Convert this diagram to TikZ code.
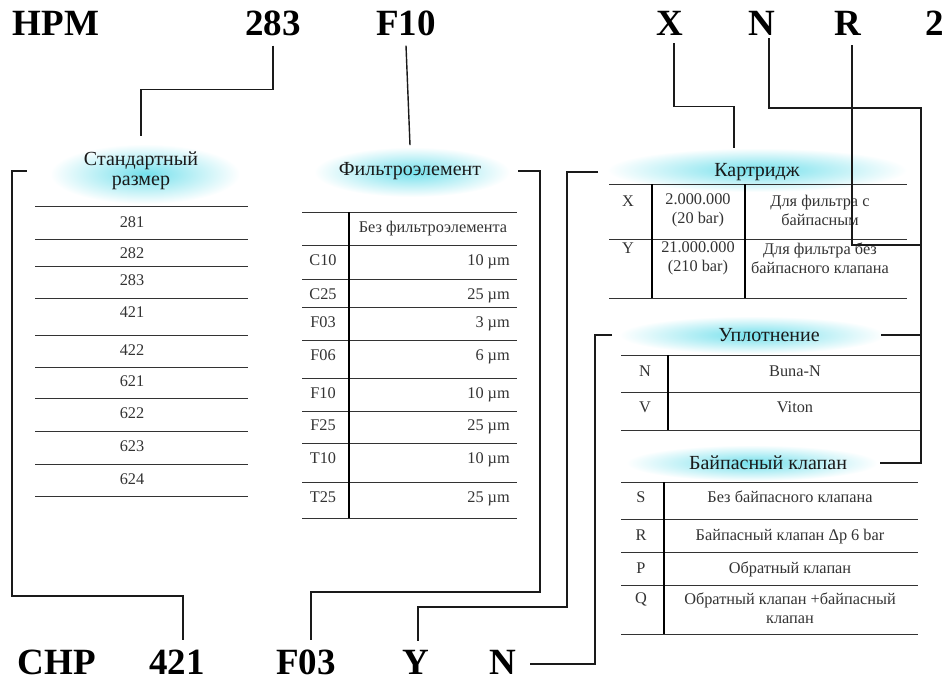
\documentclass[tikz,border=0pt]{standalone}
\usepackage{fontspec}
\setmainfont{Liberation Serif}
\usepackage{tikz}
\definecolor{glowc}{HTML}{74E0EC}
\definecolor{inkc}{HTML}{1A1A1A}
\newcommand\codefont{\fontsize{37}{40}\selectfont\bfseries}
\newcommand\headfont{\fontsize{20}{20}\selectfont}
\newcommand\cellfont{\fontsize{16.3}{19}\selectfont}
\tikzset{
  wire/.style={draw=inkc, line width=1.4pt},
  rule/.style={draw=black!80, line width=0.9pt},
  divider/.style={draw=black, line width=1.8pt},
  code/.style={font=\codefont, inner sep=3pt, anchor=base},
  head/.style={font=\headfont, inner sep=0pt, text=inkc, align=center},
  cell/.style={font=\cellfont, inner sep=0pt, text=black!80, align=center},
  cellb/.style={cell, anchor=base},
  glow/.style={inner color=glowc, outer color=white},
}

\begin{document}
\begin{tikzpicture}[x=1pt,y=-1pt]
      \fill[white] (0,0) rectangle (946,683);
      \useasboundingbox (0,0) rectangle (946,683);
      % glows behind the headers
      \shade[glow] (145,174) ellipse (95 and 30);
      \shade[glow] (412,172) ellipse (98 and 25);
      \shade[glow] (757,170) ellipse (150 and 22);
      \shade[glow] (752,335) ellipse (133 and 19);
      \shade[glow] (752,463) ellipse (126 and 18);

      % codes
      \node[code] (cHPM) at (56,35)  {HPM};
      \node[code] (c283) at (273,35) {283};
      \node[code] (cF10) at (406,35) {F10};
      \node[code] (cX)   at (670,35) {X};
      \node[code] (cNt)  at (762,35) {N};
      \node[code] (cR)   at (848,35) {R};
      \node[code] (c2)   at (935,35) {2};
      \node[code] (cCHP) at (57,674)  {CHP};
      \node[code] (c421) at (177,674) {421};
      \node[code] (cF03) at (306,674) {F03};
      \node[code] (cYb)  at (416,674) {Y};
      \node[code] (cNb)  at (503,674) {N};

      % headers
      \node[head] (hSize) at (141,171) {Стандартный\\размер};
      \node[head] (hFilt) at (410,171) {Фильтроэлемент};
      \node[head] (hCart) at (757,172) {Картридж};
      \node[head] (hSeal) at (769,335) {Уплотнение};
      \node[head] (hByp)  at (768,463) {Байпасный клапан};

      % size table
      \foreach \y in {206,239,266,298,335,367,398,431,464,496}
        \draw[rule] (35,\y) -- (248,\y);
      \foreach \v/\y in {281/227,282/258,283/285,421/317,422/355,621/386,622/418,623/451,624/484}
        \node[cellb] (sz\v) at (132,\y) {\v};

      % filter table
      \foreach \y in {212,245,279,307,340,378,411,443,482,518}
        \draw[rule] (302,\y) -- (517,\y);
      \draw[divider] (349,212) -- (349,518);
      \node[cellb] (fNone) at (433,232) {Без фильтроэлемента};
      \foreach \c/\y/\m in {C10/265/10,C25/299/25,F03/327/3,F06/360/6,F10/398/10,F25/430/25,T10/463/10,T25/502/25}
      {
        \node[cellb] (f\c) at (323,\y) {\c};
        \node[cellb,anchor=base east] (m\c) at (510,\y) {\m~µm};
      }

      % cartridge table
      \foreach \y in {184,239,298}
        \draw[rule] (609,\y) -- (907,\y);
      \draw[divider] (652,184) -- (652,298);
      \draw[divider] (745,184) -- (745,298);
      \node[cellb] (kX)  at (628,206) {X};
      \node[cell] (kXp) at (698,210) {2.000.000\\(20 bar)};
      \node[cell] (kXd) at (820,210) {Для фильтра с\\байпасным};
      \node[cellb] (kY)  at (628,253) {Y};
      \node[cell] (kYp) at (698,258) {21.000.000\\(210 bar)};
      \node[cell] (kYd) at (820,258) {Для фильтра без\\байпасного клапана};

      % seal table
      \foreach \y in {355,392,430}
        \draw[rule] (621,\y) -- (921,\y);
      \draw[divider] (668,355) -- (668,430);
      \node[cellb] (sN) at (645,376) {N};
      \node[cellb] (sBuna) at (795,376) {Buna-N};
      \node[cellb] (sV) at (645,412) {V};
      \node[cellb] (sViton) at (795,412) {Viton};

      % bypass table
      \foreach \y in {482,519,552,585,634}
        \draw[rule] (621,\y) -- (918,\y);
      \draw[divider] (664,482) -- (664,634);
      \node[cellb] (bS) at (641,502) {S};
      \node[cellb] (bSd) at (790,502) {Без байпасного клапана};
      \node[cellb] (bR) at (641,540) {R};
      \node[cellb] (bRd) at (790,540) {Байпасный клапан Δp 6 bar};
      \node[cellb] (bP) at (641,573) {P};
      \node[cellb] (bPd) at (790,573) {Обратный клапан};
      \node[cellb] (bQ) at (641,603) {Q};
      \node[cell] (bQd) at (790,608) {Обратный клапан +байпасный\\клапан};

      % connectors, top code to header
      \draw[wire] ([yshift=-7pt]c283.south) -- ++(0,44) -| ([yshift=16pt]hSize.north);
      \draw[wire] ([yshift=-7pt]cF10.south) -- ([yshift=17pt]hFilt.north);
      \draw[wire] ([xshift=4pt,yshift=-5pt]cX.south) -- ++(0,63) -| ([xshift=-23pt,yshift=15pt]hCart.north);
      \draw[wire] ([xshift=7pt]cNt.south) |- (921,108) |- ([xshift=61pt]hSeal.east);
      \draw[wire] ([xshift=4pt,yshift=-7pt]cR.south) |- (921,245) |- ([xshift=33pt]hByp.east);
      % connectors, header to bottom code
      \draw[wire] ([xshift=-57pt]hSize.west) -| (12,596) -| ([xshift=6pt,yshift=6pt]c421.north);
      \draw[wire] ([xshift=37pt]hFilt.east) -| (540,592) -| ([xshift=5pt,yshift=6pt]cF03.north);
      \draw[wire] ([xshift=-116pt]hCart.west) -| (567,607) -| ([xshift=2pt,yshift=6pt]cYb.north);
      \draw[wire] ([xshift=-106pt]hSeal.west) -| (595,600) |- ([xshift=10pt,yshift=-2pt]cNb.east);
    \end{tikzpicture}
\end{document}
